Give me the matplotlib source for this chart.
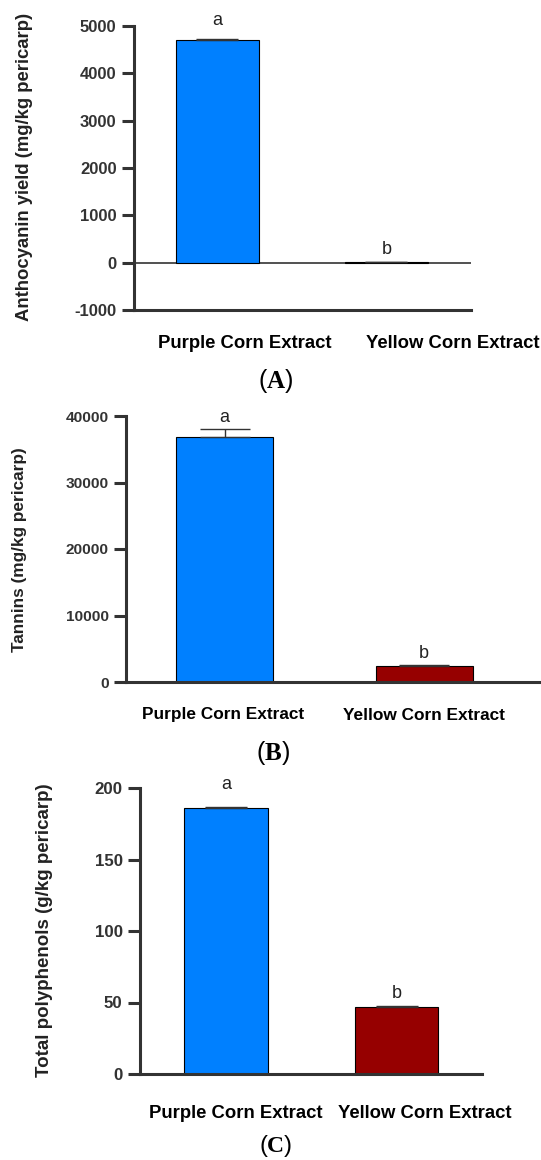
import matplotlib.pyplot as plt

plt.rcParams['font.family'] = ['Liberation Sans', 'DejaVu Sans']
plt.rcParams['mathtext.fontset'] = 'custom'
plt.rcParams['mathtext.rm'] = 'Liberation Serif'
plt.rcParams['mathtext.bf'] = 'Liberation Serif:bold'

categories = ["Purple Corn Extract", "Yellow Corn Extract"]
colors = ["#0080FF", "#960000"]
letters = ["a", "b"]

# panel A - anthocyanin yield (mg/kg pericarp)
antho = [4700, 10]
antho_err = [30, 5]
antho_ticks = [-1000, 0, 1000, 2000, 3000, 4000, 5000]

# panel B - tannins (mg/kg pericarp)
tannins = [36900, 2400]
tannins_err = [1100, 200]
tannins_ticks = [0, 10000, 20000, 30000, 40000]

# panel C - total polyphenols (g/kg pericarp)
poly = [186, 47]
poly_err = [0.8, 0.7]
poly_ticks = [0, 50, 100, 150, 200]

W, H = 541, 1160
fig = plt.figure(figsize=(W / 100, H / 100), dpi=100)

dark = "#333333"


def add_axes(left, right, top, bottom):
    return fig.add_axes([left / W, 1 - bottom / H, (right - left) / W, (bottom - top) / H])


def style(ax, ticks, fs):
    for s in ["top", "right"]:
        ax.spines[s].set_visible(False)
    for s in ["left", "bottom"]:
        ax.spines[s].set_linewidth(2.2)
        ax.spines[s].set_color(dark)
    ax.set_yticks(ticks)
    ax.set_yticklabels([str(t) for t in ticks], fontsize=fs, fontweight="bold", color=dark)
    ax.tick_params(axis="y", length=8.5, width=2.2, color=dark, pad=4)
    ax.set_xticks([])


def bars(ax, vals, errs, width, cap, offsets):
    x = range(len(vals))
    ax.bar(x, vals, width=width, color=colors, edgecolor="black", linewidth=0.8, zorder=2)
    ax.errorbar(x, vals, yerr=[[0, 0], errs], fmt="none", ecolor=dark, elinewidth=1,
                capsize=cap, capthick=1, zorder=3)
    for i in x:
        ax.annotate(letters[i], (i, vals[i] + errs[i]), xytext=(0, offsets[i]),
                    textcoords="offset points", ha="center", va="bottom",
                    fontsize=13, color="#222222", annotation_clip=False)


def px(x, y):
    return x / W, 1 - y / H


# ---- A
ax1 = add_axes(134, 471, 26, 310)
bars(ax1, antho, antho_err, 0.49, 15, [7, 2.5])
ax1.axhline(0, color=dark, linewidth=1.2, zorder=1)
ax1.set_ylim(-1000, 5000)
ax1.set_xlim(-0.494, 1.5)
style(ax1, antho_ticks, 12)
fig.text(*px(25, 167), "Anthocyanin yield (mg/kg pericarp)", rotation=90,
         ha="center", va="center", fontsize=13.3, fontweight="bold", color="#222222")
fig.text(*px(245, 344), categories[0], ha="center", va="center", fontsize=13.3, fontweight="bold")
fig.text(*px(453, 344), categories[1], ha="center", va="center", fontsize=13.3, fontweight="bold")
fig.text(*px(276, 381), r"($\mathbf{A}$)", ha="center", va="center", fontsize=18)

# ---- B
ax2 = add_axes(126, 541, 416, 682)
bars(ax2, tannins, tannins_err, 0.486, 18, [2.5, 2])
ax2.set_ylim(0, 40000)
ax2.set_xlim(-0.494, 1.586)
style(ax2, tannins_ticks, 11.1)
fig.text(*px(20, 550), "Tannins (mg/kg pericarp)", rotation=90,
         ha="center", va="center", fontsize=12.4, fontweight="bold", color="#222222")
fig.text(*px(223, 715), categories[0], ha="center", va="center", fontsize=12.4, fontweight="bold")
fig.text(*px(424, 715), categories[1], ha="center", va="center", fontsize=12.4, fontweight="bold")
fig.text(*px(273, 753), r"($\mathbf{B}$)", ha="center", va="center", fontsize=18)

# ---- C
ax3 = add_axes(140, 482, 788, 1074)
bars(ax3, poly, poly_err, 0.49, 15, [10, 2.5])
ax3.set_ylim(0, 200)
ax3.set_xlim(-0.504, 1.5)
style(ax3, poly_ticks, 12.2)
fig.text(*px(45, 930), "Total polyphenols (g/kg pericarp)", rotation=90,
         ha="center", va="center", fontsize=13.5, fontweight="bold", color="#222222")
fig.text(*px(236, 1113), categories[0], ha="center", va="center", fontsize=13.3, fontweight="bold")
fig.text(*px(425, 1113), categories[1], ha="center", va="center", fontsize=13.3, fontweight="bold")
fig.text(*px(276, 1146), r"($\mathbf{C}$)", ha="center", va="center", fontsize=17)

fig.savefig("out.png", dpi=100)
